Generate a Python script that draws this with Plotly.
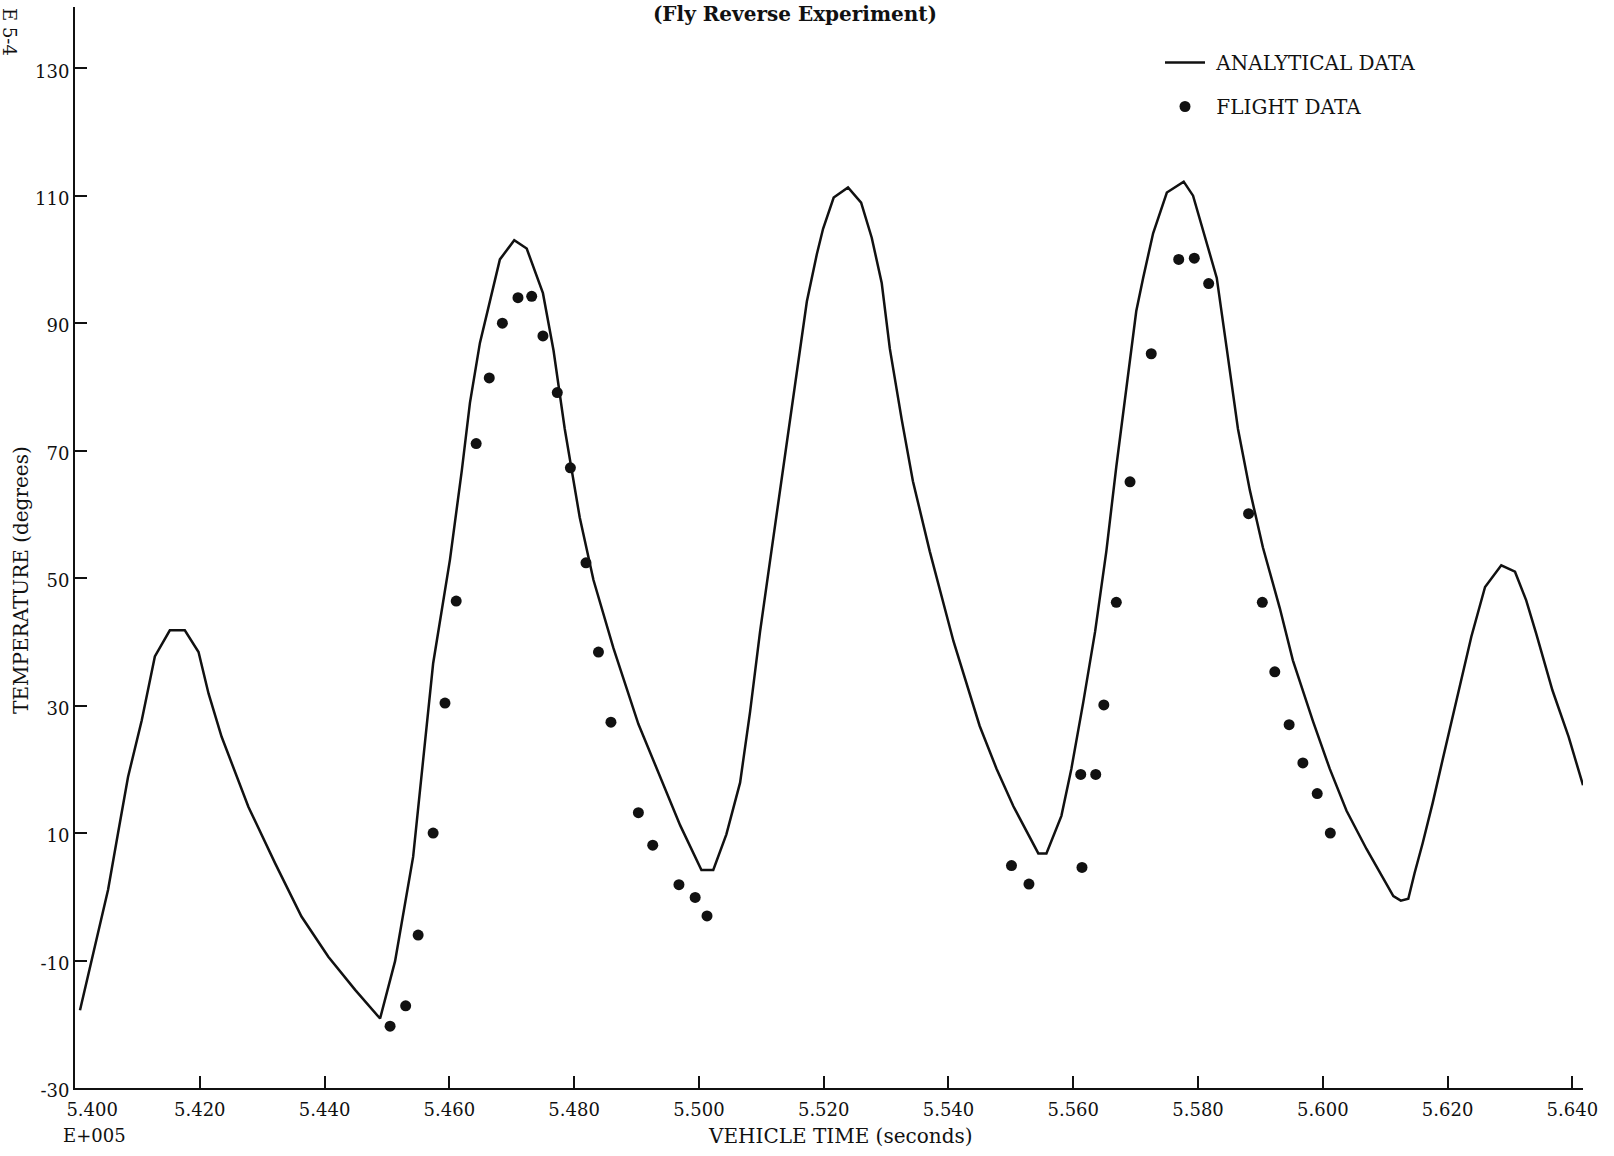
import plotly.graph_objects as go

# ---- data (vehicle time in units of 1e5 s, temperature in degrees) ----
analytical_time = [
    5.4008, 5.4027, 5.4053, 5.4069, 5.4085, 5.4107, 5.4128, 5.4152, 5.4176, 5.4198,
    5.4214, 5.4235, 5.4278, 5.4321, 5.4363, 5.4406, 5.4449, 5.4489,
    5.4513, 5.4542, 5.4558, 5.4574, 5.4601, 5.4620, 5.4633, 5.4649, 5.4662, 5.4681,
    5.4704, 5.4724, 5.4750, 5.4767, 5.4785, 5.4809, 5.4831, 5.4863, 5.4903, 5.4932,
    5.4970, 5.5004, 5.5023,
    5.5044, 5.5066, 5.5082, 5.5098, 5.5114, 5.5130, 5.5146, 5.5159, 5.5173, 5.5189,
    5.5199, 5.5216, 5.5239, 5.5260, 5.5277, 5.5293, 5.5306, 5.5325, 5.5343, 5.5370,
    5.5408, 5.5450, 5.5477, 5.5504, 5.5544, 5.5557,
    5.5581, 5.5597, 5.5616, 5.5635, 5.5653, 5.5669, 5.5685, 5.5701, 5.5712, 5.5728,
    5.5750, 5.5777, 5.5792, 5.5808, 5.5830, 5.5846, 5.5864, 5.5883, 5.5904, 5.5931,
    5.5952, 5.5984, 5.6011, 5.6038, 5.6070, 5.6113, 5.6125, 5.6137,
    5.6147, 5.6160, 5.6176, 5.6192, 5.6209, 5.6224, 5.6238, 5.6260, 5.6286, 5.6308,
    5.6326, 5.6342, 5.6368, 5.6394, 5.6417,
]
analytical_temp = [
    -17.8, -9.9, 1.1, 10.0, 18.8, 27.7, 37.7, 41.8, 41.8, 38.4,
    31.9, 25.1, 14.1, 5.2, -3.1, -9.4, -14.6, -19.1,
    -10.1, 6.3, 21.8, 36.6, 52.9, 66.9, 77.5, 86.9, 92.2, 100.0,
    103.0, 101.7, 94.7, 85.7, 73.4, 59.5, 49.7, 39.0, 27.1, 20.2,
    11.2, 4.2, 4.2,
    9.8, 17.9, 29.0, 41.6, 52.7, 63.8, 74.9, 84.5, 93.4, 100.8,
    104.8, 109.7, 111.3, 108.9, 103.4, 96.3, 86.0, 74.9, 65.2, 54.2,
    40.1, 26.8, 20.1, 14.2, 6.8, 6.8,
    12.7, 20.1, 30.5, 41.6, 54.2, 67.5, 80.1, 91.9, 97.1, 104.1,
    110.5, 112.2, 110.0, 104.5, 97.1, 86.0, 73.4, 63.8, 54.8, 45.3,
    37.1, 27.6, 20.1, 13.5, 7.5, 0.1, -0.6, -0.3,
    3.7, 8.4, 14.7, 21.5, 28.8, 35.1, 40.8, 48.6, 52.0, 51.0,
    46.5, 41.3, 32.4, 25.1, 17.5,
]

flight_time = [
    5.4505, 5.4530, 5.4550, 5.4574, 5.4593, 5.4611, 5.4643, 5.4664, 5.4685, 5.4710,
    5.4732, 5.4750, 5.4773, 5.4794, 5.4819, 5.4839, 5.4859, 5.4903, 5.4926, 5.4968,
    5.4994, 5.5013,
    5.5501, 5.5529, 5.5614, 5.5612, 5.5636, 5.5649, 5.5669, 5.5691, 5.5725, 5.5769,
    5.5794, 5.5817, 5.5881, 5.5903, 5.5923, 5.5946, 5.5968, 5.5991, 5.6012,
]
flight_temp = [
    -20.3, -17.1, -6.0, 10.0, 30.4, 46.4, 71.1, 81.4, 90.0, 94.0,
    94.2, 88.0, 79.1, 67.3, 52.4, 38.4, 27.4, 13.2, 8.1, 1.9,
    -0.1, -3.0,
    4.9, 2.0, 4.6, 19.2, 19.2, 30.1, 46.2, 65.1, 85.2, 100.0,
    100.2, 96.2, 60.1, 46.2, 35.3, 27.0, 21.0, 16.2, 10.0,
]

x_tick_vals = [5.40, 5.42, 5.44, 5.46, 5.48, 5.50, 5.52, 5.54, 5.56, 5.58, 5.60, 5.62, 5.64]
x_tick_text = ["\u00a0" * 6 + "5.400", "5.420", "5.440", "5.460", "5.480",
               "5.500", "5.520", "5.540", "5.560", "5.580", "5.600", "5.620", "5.640"]
y_tick_vals = [130, 110, 90, 70, 50, 30, 10, -10, -30]
y_tick_text = ["130", "110", "90", "70", "50", "30", "10", "-10", "-30"]

FONT = "DejaVu Serif"
INK = "#111111"

fig = go.Figure()
fig.add_trace(go.Scatter(
    x=analytical_time, y=analytical_temp, mode="lines",
    name="\u00a0ANALYTICAL DATA", legendgroup="a",
    line=dict(color=INK, width=2.5),
))
fig.add_trace(go.Scatter(
    x=flight_time, y=flight_temp, mode="markers",
    name="\u00a0FLIGHT DATA", legendgroup="b",
    marker=dict(color=INK, size=11, symbol="circle"),
))

axis_common = dict(
    showline=True, linecolor=INK, linewidth=2,
    ticks="inside", ticklen=12, tickwidth=2, tickcolor=INK,
    showgrid=False, zeroline=False, mirror=False,
    tickfont=dict(family=FONT, size=18, color=INK),
)

fig.update_layout(
    width=1614, height=1156,
    margin=dict(l=75, r=31, t=7, b=68),
    paper_bgcolor="white", plot_bgcolor="white",
    font=dict(family=FONT, color=INK),
    showlegend=True,
    legend=dict(
        x=0.7195, y=0.9667, xanchor="left", yanchor="top",
        font=dict(family=FONT, size=20, color=INK),
        bgcolor="rgba(0,0,0,0)", traceorder="grouped", tracegroupgap=15,
        itemwidth=40,
    ),
    title=dict(
        text="<b>(Fly Reverse Experiment)</b>",
        x=795 / 1614, xanchor="center", y=1 - 14 / 1156, yanchor="middle",
        font=dict(family=FONT, size=20, color=INK),
    ),
)
fig.update_xaxes(range=[5.400, 5.6417], tickvals=x_tick_vals, ticktext=x_tick_text,
                 ticklabelstandoff=4, **axis_common)
fig.update_yaxes(range=[-30, 139.6], tickvals=y_tick_vals, ticktext=y_tick_text,
                 ticklabelshift=3, **axis_common)

fig.add_annotation(text="TEMPERATURE (degrees)", xref="paper", yref="paper",
                   x=-0.0358, y=0.47, xanchor="center", yanchor="middle",
                   textangle=-90, showarrow=False,
                   font=dict(family=FONT, size=20, color=INK))
fig.add_annotation(text="VEHICLE TIME (seconds)", xref="paper", yref="paper",
                   x=0.5073, y=-0.0444, xanchor="center", yanchor="middle",
                   showarrow=False, font=dict(family=FONT, size=20, color=INK))
fig.add_annotation(text="E+005", xref="paper", yref="paper",
                   x=0.0126, y=-0.0444, xanchor="center", yanchor="middle",
                   showarrow=False, font=dict(family=FONT, size=18, color=INK))
fig.add_annotation(text="E 5-4", xref="paper", yref="paper",
                   x=-0.0438, y=0.9769, xanchor="center", yanchor="middle",
                   textangle=90, showarrow=False,
                   font=dict(family=FONT, size=18, color=INK))

fig.write_html("out.html")
